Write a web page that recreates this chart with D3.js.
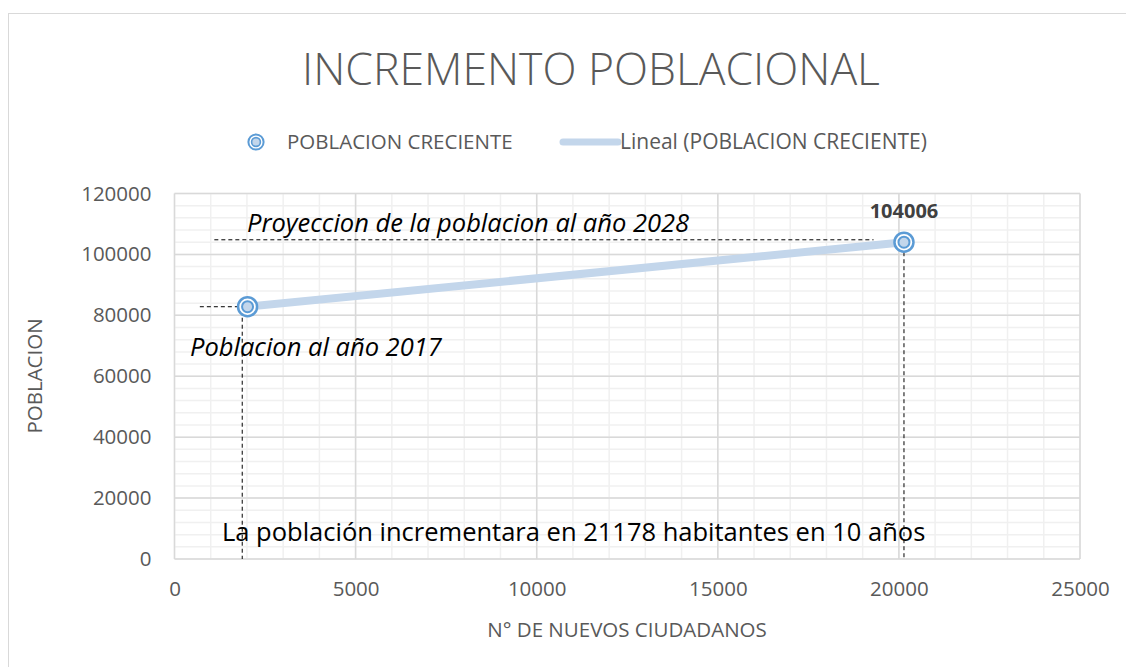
<!DOCTYPE html>
<html>
<head>
<meta charset="utf-8">
<script src="https://cdn.jsdelivr.net/npm/d3@7"></script>
<style>
  body { margin: 0; background: #fff; }
  svg { font-family: "Open Sans", "Noto Sans", sans-serif; }
</style>
</head>
<body>
<figure id="scatter" style="margin:0"></figure>
<script>
// data
const ciudadanos = [2017, 20140];
const poblacion = [82828, 104006];
const xTicks = [0, 5000, 10000, 15000, 20000, 25000];
const yTicks = [0, 20000, 40000, 60000, 80000, 100000, 120000];

const W = 1126, H = 667;
const margin = { left: 174.5, right: 46, top: 193.5, bottom: 108 };
const width = W - margin.left - margin.right;
const height = H - margin.top - margin.bottom;

const svg = d3.select("figure#scatter")
  .append("svg")
  .attr("width", W)
  .attr("height", H);

// chart frame
svg.append("rect")
  .attr("x", 8.5).attr("y", 13.5)
  .attr("width", W).attr("height", H)
  .attr("fill", "none").attr("stroke", "#d9d9d9");

const g = svg.append("g")
  .attr("transform", "translate(" + margin.left + "," + margin.top + ")");

const x = d3.scaleLinear().domain([0, 25000]).range([0, width]);
const y = d3.scaleLinear().domain([0, 120000]).range([height, 0]);

// minor grid
g.append("g").selectAll("line")
  .data(d3.range(0, 25001, 1000))
  .enter().append("line")
  .attr("x1", d => x(d)).attr("x2", d => x(d))
  .attr("y1", 0).attr("y2", height)
  .attr("stroke", "#f0f0f0").attr("stroke-width", 1.5);
g.append("g").selectAll("line")
  .data(d3.range(0, 120001, 4000))
  .enter().append("line")
  .attr("y1", d => y(d)).attr("y2", d => y(d))
  .attr("x1", 0).attr("x2", width)
  .attr("stroke", "#f0f0f0").attr("stroke-width", 1.5);

// major grid
g.append("g").selectAll("line")
  .data(xTicks)
  .enter().append("line")
  .attr("x1", d => x(d)).attr("x2", d => x(d))
  .attr("y1", 0).attr("y2", height)
  .attr("stroke", "#d9d9d9").attr("stroke-width", 1.5);
g.append("g").selectAll("line")
  .data(yTicks)
  .enter().append("line")
  .attr("y1", d => y(d)).attr("y2", d => y(d))
  .attr("x1", 0).attr("x2", width)
  .attr("stroke", "#d9d9d9").attr("stroke-width", 1.5);

// axes
const xAxis = g.append("g")
  .attr("transform", "translate(0," + height + ")")
  .call(d3.axisBottom(x).tickValues(xTicks).tickSize(0).tickPadding(22).tickFormat(d3.format("d")));
const yAxis = g.append("g")
  .call(d3.axisLeft(y).tickValues(yTicks).tickSize(0).tickPadding(23).tickFormat(d3.format("d")));
[xAxis, yAxis].forEach(a => {
  a.attr("font-family", null).attr("font-size", null);
  a.select(".domain").remove();
  a.selectAll("text").attr("fill", "#595959").style("font-size", "20.5px");
});

// dashed guide lines
const dash = g.append("g").attr("stroke", "#000").attr("stroke-width", 1).attr("stroke-dasharray", "4,3");
dash.append("line")
  .attr("x1", x(1100)).attr("x2", x(19300))
  .attr("y1", y(104800)).attr("y2", y(104800));
dash.append("line")
  .attr("x1", x(ciudadanos[1])).attr("x2", x(ciudadanos[1]))
  .attr("y1", y(poblacion[1]) + 10).attr("y2", height);
dash.append("line")
  .attr("x1", x(700)).attr("x2", x(ciudadanos[0]) - 8)
  .attr("y1", y(poblacion[0])).attr("y2", y(poblacion[0]));
dash.append("line")
  .attr("x1", x(1870)).attr("x2", x(1870))
  .attr("y1", y(poblacion[0]) + 11).attr("y2", height);

// trendline
g.append("line")
  .attr("x1", x(ciudadanos[0])).attr("y1", y(poblacion[0]))
  .attr("x2", x(ciudadanos[1])).attr("y2", y(poblacion[1]))
  .attr("stroke", "#c3d6eb").attr("stroke-width", 8).attr("stroke-linecap", "round");

// markers
function marker(sel) {
  sel.append("circle").attr("r", 9.5).attr("fill", "#fff")
    .attr("stroke", "#5b9bd5").attr("stroke-width", 2.5);
  sel.append("circle").attr("r", 5.5).attr("fill", "#c3d6eb")
    .attr("stroke", "#5b9bd5").attr("stroke-width", 2);
}
const pts = g.append("g").selectAll("g")
  .data(ciudadanos.map((c, i) => [c, poblacion[i]]))
  .enter().append("g")
  .attr("transform", d => "translate(" + x(d[0]) + "," + y(d[1]) + ")");
pts.each(function () { marker(d3.select(this)); });

// data label
g.append("text")
  .attr("x", x(ciudadanos[1])).attr("y", y(poblacion[1]) - 24)
  .attr("text-anchor", "middle")
  .attr("fill", "#404040").style("font-size", "20px").style("font-weight", "bold")
  .text(poblacion[1]);

// annotations
svg.append("text").attr("x", 247).attr("y", 232)
  .style("font-size", "25.5px").style("font-style", "italic").attr("fill", "#000")
  .text("Proyeccion de la poblacion al año 2028");
svg.append("text").attr("x", 190).attr("y", 356)
  .style("font-size", "25.5px").style("font-style", "italic").attr("fill", "#000")
  .text("Poblacion al año 2017");
svg.append("text").attr("x", 222).attr("y", 541)
  .style("font-size", "25.5px").attr("fill", "#000")
  .text("La población incrementara en 21178 habitantes en 10 años");

// title
svg.append("text").attr("x", 591).attr("y", 85).attr("text-anchor", "middle")
  .attr("fill", "#595959").style("font-size", "44.5px").style("font-weight", "300")
  .text("INCREMENTO POBLACIONAL");

// legend
const leg = svg.append("g").attr("transform", "translate(256,142)");
marker(leg.append("g").attr("transform", "scale(0.8)"));
leg.append("text").attr("x", 31).attr("y", 7).attr("fill", "#595959").style("font-size", "20.5px")
  .text("POBLACION CRECIENTE");
leg.append("line").attr("x1", 307).attr("x2", 362).attr("y1", 0).attr("y2", 0)
  .attr("stroke", "#c3d6eb").attr("stroke-width", 7).attr("stroke-linecap", "round");
leg.append("text").attr("x", 364).attr("y", 7).attr("fill", "#595959").style("font-size", "21px")
  .text("Lineal (POBLACION CRECIENTE)");

// axis titles
svg.append("text").attr("x", 627).attr("y", 637).attr("text-anchor", "middle")
  .attr("fill", "#595959").style("font-size", "20.5px")
  .text("N° DE NUEVOS CIUDADANOS");
svg.append("text").attr("transform", "translate(42,376) rotate(-90)").attr("text-anchor", "middle")
  .attr("fill", "#595959").style("font-size", "20.5px")
  .text("POBLACION");
</script>
</body>
</html>
